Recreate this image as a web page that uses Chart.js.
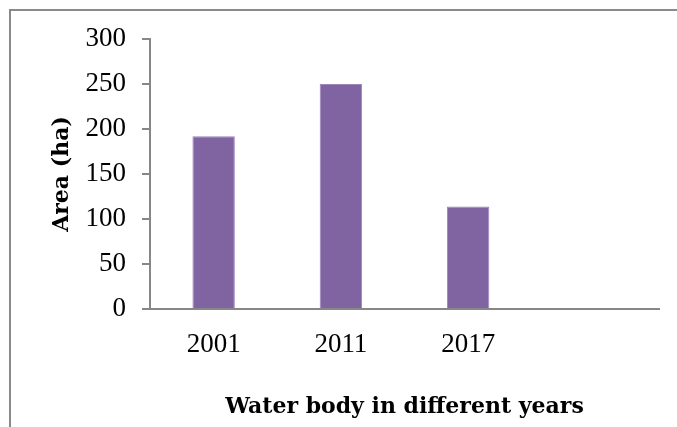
<!DOCTYPE html>
<html>
<head>
<meta charset="utf-8">
<script src="https://cdn.jsdelivr.net/npm/chart.js@4"></script>
<style>
  html, body { margin: 0; padding: 0; background: #fff; }
  #wrap { position: relative; width: 677px; height: 427px; overflow: hidden; }
  #frame { position: absolute; left: 9px; top: 9px; width: 700px; height: 450px;
           border-left: 2px solid #8a8a8a; border-top: 2px solid #8a8a8a; }
  canvas { position: absolute; left: 0; top: 0; }
</style>
</head>
<body>
<div id="wrap">
  <div id="frame"></div>
  <canvas id="c" width="677" height="427"></canvas>
</div>
<script>
// Water body area by survey year (ha); the last slot is an empty category
const years = ['2001', '2011', '2017', ''];
const areaHa = [192, 250, 114, null];
const yTicks = [0, 50, 100, 150, 200, 250, 300];

const axisGrey = '#878787';
const tickFont = "'Liberation Serif', 'Times New Roman', serif";
const titleFont = "'DejaVu Serif', 'Liberation Serif', serif";

new Chart(document.getElementById('c'), {
  type: 'bar',
  data: {
    labels: years,
    datasets: [{
      data: areaHa,
      backgroundColor: '#8064a2',
      borderColor: '#9a86ba',
      borderWidth: 1,
      categoryPercentage: 1,
      barPercentage: 1 / 3
    }]
  },
  options: {
    responsive: false,
    animation: false,
    devicePixelRatio: 1,
    layout: { padding: { top: 39, right: 18, left: 0, bottom: 0 } },
    plugins: { legend: { display: false }, tooltip: { enabled: false } },
    scales: {
      x: {
        grid: { display: false },
        border: { display: true, color: axisGrey, width: 2 },
        ticks: { color: '#000', font: { family: tickFont, size: 27 }, padding: 12 },
        title: {
          display: true,
          text: 'Water body in different years',
          color: '#000',
          font: { family: titleFont, size: 22, weight: 'bold' },
          padding: { top: 0, bottom: 7 }
        },
        afterFit: s => { s.height = 118; }
      },
      y: {
        min: 0,
        max: 300,
        afterBuildTicks: s => { s.ticks = yTicks.map(v => ({ value: v })); },
        grid: { drawOnChartArea: false, drawTicks: true, tickLength: 8, color: axisGrey, lineWidth: 2 },
        border: { display: true, color: axisGrey, width: 2 },
        ticks: { color: '#000', font: { family: tickFont, size: 27 }, padding: 16 },
        title: {
          display: true,
          text: 'Area (ha)',
          color: '#000',
          font: { family: titleFont, size: 22, weight: 'bold' },
          padding: { top: 49, bottom: 0 }
        },
        afterFit: s => { s.width = 150; }
      }
    }
  }
});
</script>
</body>
</html>
